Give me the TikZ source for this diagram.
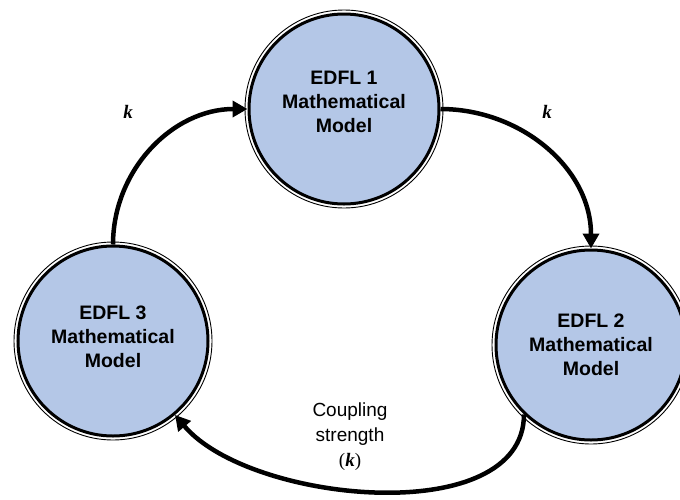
\documentclass[tikz,border=0pt]{standalone}
\usepackage{amsmath}
\usepackage{fontspec}
\setmainfont{Liberation Sans}
\newfontfamily\kfont{Liberation Serif}
\usepackage{tikz}
\usepackage{xcolor}
\usetikzlibrary{arrows.meta, positioning, calc}

\definecolor{modelblue}{RGB}{180,199,231}

\tikzset{
	model/.style={circle, draw, line width=3pt, fill=modelblue, minimum size=190pt, inner sep=0pt,
		font=\bfseries\fontsize{19.5}{24}\selectfont, align=center},
	ring/.style={draw, line width=0.9pt},
	link/.style={line width=4.5pt, -{Triangle[length=15pt,width=16pt]}},
	klabel/.style={font=\kfont\bfseries\itshape\fontsize{19}{24}\selectfont}
}

\begin{document}
\begin{tikzpicture}[x=1pt, y=-1pt]
		\useasboundingbox (0,0) rectangle (680,499);

		% Models
		\node[model] (edfl1) at (344,109) {EDFL 1\\Mathematical\\Model\\[-10pt]};
		\node[model] (edfl2) at (591,345) {EDFL 2\\Mathematical\\Model};
		\node[model] (edfl3) at (113,341) {EDFL 3\\Mathematical\\Model\\[-16pt]};

		\draw[ring] (edfl1.center) circle[radius=99pt];
		\draw[ring] (edfl2.center) circle[radius=99pt];
		\draw[ring] (edfl3.center) circle[radius=99pt];

		% Coupling
		\draw[link] (edfl3.north) to[out=90, in=180] (edfl1.west);
		\draw[link] (edfl1.east) to[out=0, in=90] (edfl2.north);
		\draw[link] (edfl2.226) to[out=-90, in=-50, looseness=0.85] (edfl3.310);

		% Labels
		\node[klabel] (k31) at (128,112) {k};
		\node[klabel] (k12) at (547,112) {k};
		\node[align=center, font=\fontsize{19}{25}\selectfont] (coupling) at (350,437)
			{Coupling\\strength\\{\kfont(\bfseries\itshape k\mdseries\upshape)}};
	\end{tikzpicture}
\end{document}
